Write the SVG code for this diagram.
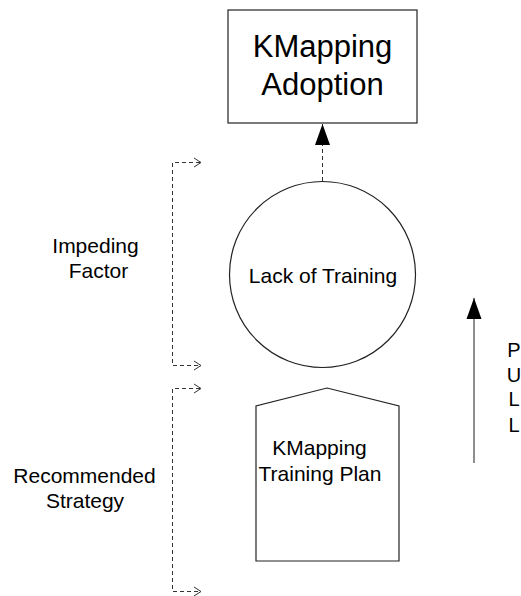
<svg xmlns="http://www.w3.org/2000/svg" width="521" height="596" viewBox="0 0 521 596">
<style>
.shape{fill:#ffffff;stroke:#222222;stroke-width:1.2}
.lbl{font-family:"Liberation Sans",Arial,sans-serif;fill:#000000;text-anchor:middle}
.dash{fill:none;stroke:#333333;stroke-width:1;stroke-dasharray:4 3}
.solid{fill:none;stroke:#444444;stroke-width:1.2}
.chev{fill:none;stroke:#333333;stroke-width:1}
</style>
<defs>
<marker id="filled" markerUnits="userSpaceOnUse" markerWidth="24" markerHeight="18" viewBox="-22 -9 24 18" refX="0" refY="0" orient="auto">
<path d="M0,0 L-21,-7.5 L-21,7.5 Z" fill="#000000" stroke="none"/>
</marker>
</defs>
<rect width="521" height="596" fill="#ffffff"/>
<g id="node-adoption">
<rect class="shape" x="228" y="10" width="189" height="113"/>
<text class="lbl" x="322.5" y="56.5" font-size="31">KMapping</text>
<text class="lbl" x="322.5" y="95" font-size="31">Adoption</text>
</g>
<g id="node-lack">
<circle class="shape" cx="322.5" cy="274.5" r="93"/>
<text class="lbl" x="323" y="283" font-size="21">Lack of Training</text>
</g>
<g id="node-plan">
<path class="shape" d="M256,561 L256,406 L327,388 L399,406 L399,561 Z"/>
<text class="lbl" x="319.5" y="455" font-size="21">KMapping</text>
<text class="lbl" x="320" y="480.5" font-size="21">Training Plan</text>
</g>
<g id="label-impeding">
<text class="lbl" x="95.5" y="253" font-size="21">Impeding</text>
<text class="lbl" x="98.5" y="278" font-size="21">Factor</text>
</g>
<g id="label-strategy">
<text class="lbl" x="84.5" y="482.5" font-size="21">Recommended</text>
<text class="lbl" x="85" y="507.5" font-size="21">Strategy</text>
</g>
<g id="label-pull">
<text class="lbl" x="514" y="356.5" font-size="20">P</text>
<text class="lbl" x="514" y="381.5" font-size="20">U</text>
<text class="lbl" x="514" y="406" font-size="20">L</text>
<text class="lbl" x="514" y="431.5" font-size="20">L</text>
</g>
<g id="connectors">
<path class="dash" d="M322.5,181 L322.5,124" marker-end="url(#filled)"/>
<path class="solid" d="M474,463 L474,298" marker-end="url(#filled)"/>
<path class="dash" d="M200,162.5 L172.5,162.5 L172.5,365.5 L200,365.5"/>
<path class="dash" d="M200,388.5 L172.5,388.5 L172.5,591.5 L200,591.5"/>
<path class="chev" d="M194,158 L201,162.5 L194,167"/>
<path class="chev" d="M194,361 L201,365.5 L194,370"/>
<path class="chev" d="M194,384 L201,388.5 L194,393"/>
<path class="chev" d="M194,587 L201,591.5 L194,596"/>
</g>
</svg>
